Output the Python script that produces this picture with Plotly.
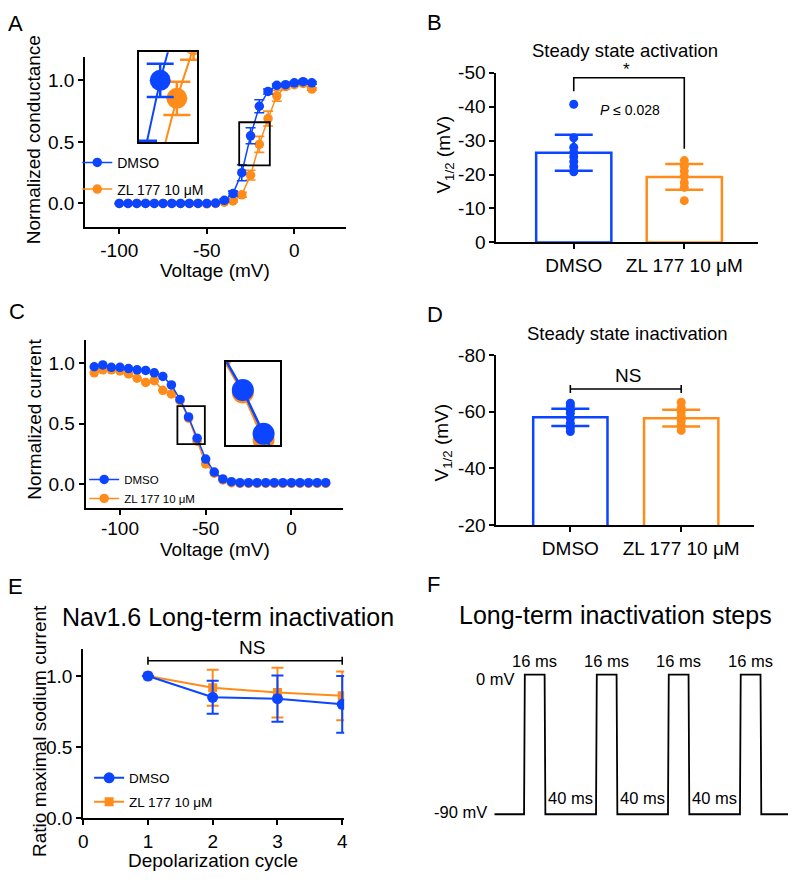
import plotly.graph_objects as go

# ---------------- data ----------------
# Panel A: activation (normalized conductance)
A_voltage = [-100, -95, -90, -85, -80, -75, -70, -65, -60, -55, -50, -45, -40, -35, -30, -25, -20, -15, -10, -5, 0, 5, 10]
A_dmso = [0, 0, 0, 0, 0, 0, 0, 0, 0, 0, 0, 0.003, 0.025, 0.08, 0.25, 0.55, 0.79, 0.91, 0.96, 0.965, 0.98, 0.99, 0.98]
A_dmso_err = [0, 0, 0, 0, 0, 0, 0, 0, 0, 0, 0, 0, 0.01, 0.02, 0.065, 0.065, 0.053, 0.02, 0.01, 0.01, 0.01, 0.01, 0.01]
A_zl = [0, 0, 0, 0, 0, 0, 0, 0, 0, 0, -0.003, 0, 0.01, 0.02, 0.07, 0.23, 0.48, 0.69, 0.875, 0.95, 0.965, 0.975, 0.93]
A_zl_err = [0, 0, 0, 0, 0, 0, 0, 0, 0, 0, 0, 0, 0.005, 0.01, 0.02, 0.04, 0.065, 0.06, 0.045, 0.02, 0.01, 0.01, 0.01]
A_xticks = [-100, -50, 0]
A_xticklabels = ["-100", "-50", "0"]

# Panel B: V1/2 activation
B_groups = ["DMSO", "ZL 177 10 μM"]
B_means = [-26.4, -19.3]
B_sd = [5.3, 3.8]
B_dmso_pts = [-40.7, -30.8, -28.0, -26.5, -25.2, -23.8, -22.3, -20.8]
B_zl_pts = [-24.1, -22.4, -21.0, -19.5, -17.6, -16.2, -12.3]
B_yticks = [0, -10, -20, -30, -40, -50]
B_yticklabels = ["0", "-10", "-20", "-30", "-40", "-50"]

# Panel C: inactivation (normalized current)
C_voltage = [-115, -110, -105, -100, -95, -90, -85, -80, -75, -70, -65, -60, -55, -50, -45, -40,
             -35, -30, -25, -20, -15, -10, -5, 0, 5, 10, 15, 20]
C_dmso = [0.97, 0.985, 0.965, 0.965, 0.955, 0.945, 0.94, 0.92, 0.89, 0.82, 0.70, 0.555, 0.38, 0.207, 0.10, 0.043,
          0.02, 0.012, 0.012, 0.012, 0.012, 0.012, 0.012, 0.012, 0.012, 0.012, 0.012, 0.012]
C_zl = [0.92, 0.945, 0.945, 0.935, 0.91, 0.875, 0.84, 0.855, 0.775, 0.745, 0.69, 0.545, 0.355, 0.167, 0.09, 0.035,
        0.012, 0.007, 0.007, 0.007, 0.007, 0.007, 0.007, 0.007, 0.007, 0.007, 0.007, 0.007]

# Panel D: V1/2 inactivation
D_groups = ["DMSO", "ZL 177 10 μM"]
D_means = [-58.0, -57.7]
D_sd = [3.05, 2.95]
D_dmso_pts = [-63.0, -61.9, -60.5, -59.4, -57.6, -55.9, -54.2, -53.0]
D_zl_pts = [-63.3, -61.4, -59.9, -58.3, -56.8, -55.1, -53.4]
D_yticks = [-20, -40, -60, -80]
D_yticklabels = ["-20", "-40", "-60", "-80"]

# Panel E: long-term inactivation
E_cycle = [1, 2, 3, 4]
E_dmso = [1.0, 0.85, 0.84, 0.80]
E_dmso_err = [0, 0.116, 0.163, 0.2]
E_zl = [1.0, 0.917, 0.883, 0.86]
E_zl_err = [0, 0.127, 0.175, 0.172]

# Panel F: voltage protocol
F_time_ms = [-23, 0, 0.6, 16, 16.6, 56, 56.6, 72, 72.6, 112, 112.6, 128, 128.6, 168, 168.6, 184, 184.6, 209.5]
F_voltage_mv = [-90, -90, 0, 0, -90, -90, 0, 0, -90, -90, 0, 0, -90, -90, 0, 0, -90, -90]
F_pulse_label_t = [8.3, 64.3, 120.3, 176.3]
F_gap_label_t = [36.3, 92.3, 148.3]

# ---------------- style ----------------
BLUE = "#0b45ff"
ORANGE = "#ff8c1a"
FONT = "Liberation Sans, Arial, sans-serif"
PAGE_W, PAGE_H = 800, 883
OFF = 8  # default page body margin
W, H = PAGE_W - 2 * OFF, PAGE_H - 2 * OFF


def fx(p):
    return (p - OFF) / W


def fy(p):
    return 1 - (p - OFF) / H


def dom_x(a, b):
    return [max(0, fx(a)), min(1, fx(b))]


def dom_y(top, bottom):
    return [max(0, fy(bottom)), min(1, fy(top))]


axis_style = dict(showline=True, linecolor="black", linewidth=2, ticks="outside", ticklen=5,
                  tickwidth=2, tickcolor="black", showgrid=False, zeroline=False,
                  tickfont=dict(size=19, color="black", family=FONT))
inset_style = dict(showline=True, mirror=True, linecolor="black", linewidth=2, ticks="",
                   showticklabels=False, showgrid=False, zeroline=False)

fig = go.Figure()

# ---- Panel A ----
for xa, ya, main in [("x", "y", True), ("x2", "y2", False)]:
    msize = 9.5 if main else 21
    lw = 1.5 if main else 2
    et = 1.6 if main else 2.5
    ew = 5 if main else 13.5
    fig.add_trace(go.Scatter(
        x=A_voltage, y=A_zl, mode="lines+markers", name="ZL 177 10 μM",
        marker=dict(size=msize, color=ORANGE), line=dict(color=ORANGE, width=lw),
        error_y=dict(type="data", array=A_zl_err, color=ORANGE, thickness=et, width=ew),
        xaxis=xa, yaxis=ya, showlegend=main, legend="legend", legendgroup="a_zl", legendrank=2))
    fig.add_trace(go.Scatter(
        x=A_voltage, y=A_dmso, mode="lines+markers", name="DMSO",
        marker=dict(size=msize, color=BLUE), line=dict(color=BLUE, width=lw),
        error_y=dict(type="data", array=A_dmso_err, color=BLUE, thickness=et, width=ew),
        xaxis=xa, yaxis=ya, showlegend=main, legend="legend", legendgroup="a_dmso", legendrank=1))

# ---- Panel B ----
for i, (col, pts) in enumerate([(BLUE, B_dmso_pts), (ORANGE, B_zl_pts)]):
    fig.add_trace(go.Bar(
        x=[i], y=[B_means[i]], width=0.68,
        marker=dict(color="white", line=dict(color=col, width=2.5)),
        error_y=dict(type="data", array=[B_sd[i]], color=col, thickness=2.5, width=19),
        xaxis="x3", yaxis="y3", showlegend=False))
    fig.add_trace(go.Scatter(
        x=[i] * len(pts), y=pts, mode="markers", marker=dict(size=9, color=col),
        xaxis="x3", yaxis="y3", showlegend=False))

# ---- Panel C ----
for xa, ya, main in [("x4", "y4", True), ("x5", "y5", False)]:
    msize = 9.5 if main else 22
    lw = 1.5 if main else 2.5
    fig.add_trace(go.Scatter(
        x=C_voltage, y=C_zl, mode="lines+markers", name="ZL 177 10 μM",
        marker=dict(size=msize, color=ORANGE), line=dict(color=ORANGE, width=lw),
        xaxis=xa, yaxis=ya, showlegend=main, legend="legend2", legendgroup="c_zl", legendrank=2))
    fig.add_trace(go.Scatter(
        x=C_voltage, y=C_dmso, mode="lines+markers", name="DMSO",
        marker=dict(size=msize, color=BLUE), line=dict(color=BLUE, width=lw),
        xaxis=xa, yaxis=ya, showlegend=main, legend="legend2", legendgroup="c_dmso", legendrank=1))

# ---- Panel D ----
for i, (col, pts) in enumerate([(BLUE, D_dmso_pts), (ORANGE, D_zl_pts)]):
    fig.add_trace(go.Bar(
        x=[i], y=[D_means[i]], width=0.67,
        marker=dict(color="white", line=dict(color=col, width=2.5)),
        error_y=dict(type="data", array=[D_sd[i]], color=col, thickness=2.5, width=19),
        xaxis="x6", yaxis="y6", showlegend=False))
    fig.add_trace(go.Scatter(
        x=[i] * len(pts), y=pts, mode="markers", marker=dict(size=9, color=col),
        xaxis="x6", yaxis="y6", showlegend=False))

# ---- Panel E ----
fig.add_trace(go.Scatter(
    x=E_cycle, y=E_zl, mode="lines+markers", name="ZL 177 10 μM",
    marker=dict(size=9, color=ORANGE, symbol="square"), line=dict(color=ORANGE, width=2),
    error_y=dict(type="data", array=E_zl_err, color=ORANGE, thickness=2, width=6),
    xaxis="x7", yaxis="y7", legend="legend3", legendgroup="e_zl", legendrank=2))
fig.add_trace(go.Scatter(
    x=E_cycle, y=E_dmso, mode="lines+markers", name="DMSO",
    marker=dict(size=11, color=BLUE), line=dict(color=BLUE, width=2),
    error_y=dict(type="data", array=E_dmso_err, color=BLUE, thickness=2, width=6),
    xaxis="x7", yaxis="y7", legend="legend3", legendgroup="e_dmso", legendrank=1))

# ---- Panel F ----
fig.add_trace(go.Scatter(
    x=F_time_ms, y=F_voltage_mv, mode="lines", line=dict(color="black", width=1.8),
    xaxis="x8", yaxis="y8", showlegend=False))

# ---------------- layout ----------------
F_right_px = PAGE_W - OFF
layout = dict(
    width=W, height=H, margin=dict(l=0, r=0, t=0, b=0),
    paper_bgcolor="white", plot_bgcolor="white",
    font=dict(family=FONT, color="black"),
    barmode="overlay",
    xaxis=dict(axis_style, domain=dom_x(81, 345), range=[-119.5, 29.6], tickvals=A_xticks,
               ticktext=A_xticklabels, anchor="y"),
    yaxis=dict(axis_style, domain=dom_y(48, 222), range=[-0.19, 1.19], tickvals=[0, 0.5, 1.0],
               tickformat=".1f", anchor="x"),
    xaxis2=dict(inset_style, domain=dom_x(135, 194), range=[-31.5, -14], anchor="y2"),
    yaxis2=dict(inset_style, domain=dom_y(43, 135), range=[0.31, 0.66], anchor="x2"),
    xaxis3=dict(axis_style, domain=dom_x(497, 762), range=[-0.70, 1.67], tickvals=[0, 1],
                ticktext=B_groups, anchor="y3"),
    yaxis3=dict(axis_style, domain=dom_y(64, 238), range=[0, -50], tickvals=B_yticks,
                ticktext=B_yticklabels, anchor="x3"),
    xaxis4=dict(axis_style, domain=dom_x(81.5, 341.7), range=[-120, 30], tickvals=A_xticks,
                ticktext=A_xticklabels, anchor="y4", ticklabelstandoff=-3),
    yaxis4=dict(axis_style, domain=dom_y(338, 510), range=[-0.196, 1.191], tickvals=[0, 0.5, 1.0],
                tickformat=".1f", anchor="x4"),
    xaxis5=dict(inset_style, domain=dom_x(223.7, 278.3), range=[-64, -51], anchor="y5"),
    yaxis5=dict(inset_style, domain=dom_y(360.7, 446), range=[0.333, 0.667], anchor="x5"),
    xaxis6=dict(axis_style, domain=dom_x(497, 758), range=[-0.667, 1.66], tickvals=[0, 1],
                ticktext=D_groups, anchor="y6"),
    yaxis6=dict(axis_style, domain=dom_y(353.3, 527.7), range=[-20, -80], tickvals=D_yticks,
                ticktext=D_yticklabels, anchor="x6"),
    xaxis7=dict(axis_style, domain=dom_x(79, 343), range=[0, 4.03], tickvals=[0, 1, 2, 3, 4], anchor="y7"),
    yaxis7=dict(axis_style, domain=dom_y(655, 827.7), range=[0, 1.188], tickvals=[0, 0.5, 1.0],
                tickformat=".1f", anchor="x7"),
    xaxis8=dict(visible=False, domain=dom_x(480, F_right_px),
                range=[-34.6, (F_right_px - 525) / 1.3], anchor="y8"),
    yaxis8=dict(visible=False, domain=dom_y(655, 845), range=[-103.2, 16.36], anchor="x8"),
    legend=dict(x=fx(73), y=fy(140), xanchor="left", yanchor="top", bgcolor="rgba(0,0,0,0)",
                font=dict(size=14), traceorder="grouped", tracegroupgap=5.5),
    legend2=dict(x=fx(80), y=fy(466), xanchor="left", yanchor="top", bgcolor="rgba(0,0,0,0)",
                 font=dict(size=11.5), traceorder="grouped", tracegroupgap=0),
    legend3=dict(x=fx(85), y=fy(771), xanchor="left", yanchor="top", bgcolor="rgba(0,0,0,0)",
                 font=dict(size=13.5), traceorder="grouped", tracegroupgap=3.5),
)

shapes = [
    # zoom boxes
    dict(type="rect", xref="x", yref="y", x0=-31.5, x1=-14, y0=0.31, y1=0.66,
         line=dict(color="black", width=1.8)),
    dict(type="rect", xref="x4", yref="y4", x0=-66.5, x1=-50.5, y0=0.33, y1=0.645,
         line=dict(color="black", width=1.8)),
    # significance brackets
    dict(type="path", xref="x3", yref="y3", path="M 0,-44.5 L 0,-48.5 L 1,-48.5 L 1,-27.6",
         line=dict(color="black", width=1.6)),
    dict(type="path", xref="x6", yref="y6",
         path="M 0,-66.6 L 0,-69.4 M 0,-68 L 1,-68 M 1,-66.6 L 1,-69.4",
         line=dict(color="black", width=1.6)),
    dict(type="path", xref="x7", yref="y7",
         path="M 1,1.08 L 1,1.136 M 1,1.108 L 4,1.108 M 4,1.08 L 4,1.136",
         line=dict(color="black", width=1.6)),
]

annotations = []


def ann(px, py, text, size, angle=0, xanchor="center"):
    annotations.append(dict(x=fx(px), y=fy(py), xref="paper", yref="paper", text=text,
                            showarrow=False, xanchor=xanchor, yanchor="middle", textangle=angle,
                            font=dict(size=size, color="black", family=FONT)))


# panel letters
for letter, px, py in [("A", 11, 14), ("B", 434, 13), ("C", 12, 309), ("D", 435, 312), ("E", 11, 591), ("F", 433, 589)]:
    ann(px, py, letter, 22)
# titles
ann(627, 41, "Steady state activation", 18.5)
ann(630, 331, "Steady state inactivation", 18.5)
ann(225, 622, "Nav1.6 Long-term inactivation", 25)
ann(618, 620, "Long-term inactivation steps", 25)
# axis titles
ann(29, 132.5, "Normalized conductance", 19, angle=-90)
ann(212.5, 267, "Voltage (mV)", 19)
ann(445, 148, "V<sub>1/2</sub> (mV)", 19, angle=-90)
ann(29, 419, "Normalized current", 19, angle=-90)
ann(212, 553, "Voltage (mV)", 19)
ann(443, 443, "V<sub>1/2</sub> (mV)", 19, angle=-90)
ann(35, 739, "Ratio maximal sodium current", 19, angle=-90)
ann(210, 871, "Depolarization cycle", 19)
# significance marks
ann(629, 61, "*", 17)
ann(250, 653, "NS", 19)
annotations.append(dict(x=0.506, y=-39, xref="x3", yref="y3", text="<i>P</i> ≤ 0.028", showarrow=False,
                        font=dict(size=14, color="black")))
annotations.append(dict(x=0.52, y=-72.6, xref="x6", yref="y6", text="NS", showarrow=False,
                        font=dict(size=19, color="black")))

# protocol labels (F)
for t in F_pulse_label_t:
    annotations.append(dict(x=t, y=9.0, xref="x8", yref="y8", text="16 ms", showarrow=False,
                            yanchor="middle", font=dict(size=16.5, color="black")))
for t in F_gap_label_t:
    annotations.append(dict(x=t, y=-79.5, xref="x8", yref="y8", text="40 ms", showarrow=False,
                            yanchor="middle", font=dict(size=16.5, color="black")))
annotations.append(dict(x=-5.4, y=-2.5, xref="x8", yref="y8", text="0 mV", showarrow=False,
                        xanchor="right", yanchor="middle", font=dict(size=16.5, color="black")))
annotations.append(dict(x=-26.9, y=-88.8, xref="x8", yref="y8", text="-90 mV", showarrow=False,
                        xanchor="right", yanchor="middle", font=dict(size=16.5, color="black")))

layout["shapes"] = shapes
layout["annotations"] = annotations
fig.update_layout(**layout)

fig.write_html("out.html", config={"displayModeBar": False})
